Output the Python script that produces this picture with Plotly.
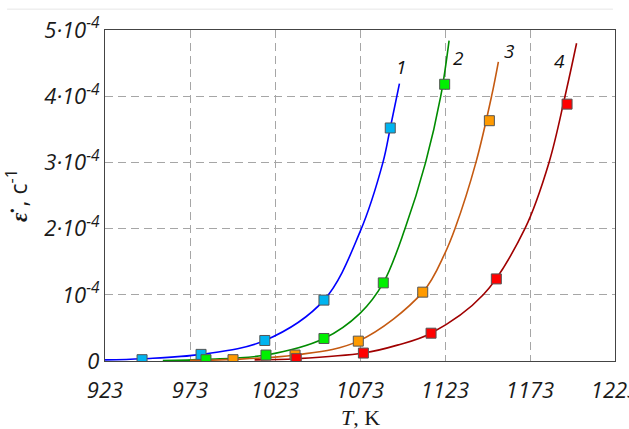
import plotly.graph_objects as go

# ---------------- data ----------------
x_ticks = [923, 973, 1023, 1073, 1123, 1173, 1223]
y_ticks = [0, 1e-4, 2e-4, 3e-4, 4e-4, 5e-4]
y_tick_labels = ["0", "10<sup>-4</sup>", "2·10<sup>-4</sup>", "3·10<sup>-4</sup>",
                 "4·10<sup>-4</sup>", "5·10<sup>-4</sup>"]

series_names = ["1", "2", "3", "4"]

# measured points (markers), strain rate in units of 1e-4 s^-1
pts1_T = [944.8, 979.5, 1017.0, 1051.8, 1090.8]
pts1_e = [0.02, 0.10, 0.31, 0.92, 3.52]
pts2_T = [982.4, 1017.7, 1051.8, 1086.7, 1122.8]
pts2_e = [0.02, 0.09, 0.34, 1.18, 4.18]
pts3_T = [998.3, 1034.8, 1072.0, 1109.9, 1149.1]
pts3_e = [0.02, 0.09, 0.30, 1.04, 3.63]
pts4_T = [1035.5, 1075.0, 1114.8, 1153.2, 1194.8]
pts4_e = [0.035, 0.12, 0.42, 1.24, 3.88]

# fitted curves
fit1_T = [923, 945, 979.5, 1017, 1051.8, 1073, 1086.5, 1090.8, 1096.2]
fit1_e = [0.017, 0.035, 0.10, 0.31, 0.92, 1.95, 3.0, 3.52, 4.19]
fit2_T = [957, 982.4, 1017.7, 1051.8, 1073, 1086.7, 1099.5, 1111.6, 1120.5, 1125.4]
fit2_e = [0.006, 0.025, 0.09, 0.34, 0.72, 1.18, 2.0, 3.0, 4.0, 4.84]
fit3_T = [973, 998.3, 1034.8, 1072, 1109.9, 1123, 1128.9, 1141.2, 1150.4, 1154.4]
fit3_e = [0.009, 0.025, 0.09, 0.30, 1.04, 1.63, 2.0, 3.0, 4.0, 4.52]
fit4_T = [1011, 1035.5, 1075, 1095, 1114.8, 1145.5, 1170, 1184.2, 1193.6, 1200.4]
fit4_e = [0.017, 0.035, 0.12, 0.24, 0.42, 1.0, 2.0, 3.0, 4.0, 4.8]

# curve label positions (T, e*1e-4)
label_T = [1097.1, 1130.6, 1160.6, 1190.1]
label_e = [4.44, 4.57, 4.68, 4.53]

x_title = "<i>T</i>, K"
y_title = "<span style='font-family:Liberation Serif'><b><i>ε\u0307</i></b></span> , c<sup>-1</sup>"

line_colors = ["#0000FF", "#008C00", "#C55A11", "#A00000"]
marker_colors = ["#00B4F0", "#00F000", "#FF9A00", "#FF0000"]

SCALE = 1e-4

fig = go.Figure()
fits = [(fit1_T, fit1_e), (fit2_T, fit2_e), (fit3_T, fit3_e), (fit4_T, fit4_e)]
pts = [(pts1_T, pts1_e), (pts2_T, pts2_e), (pts3_T, pts3_e), (pts4_T, pts4_e)]
for i in range(4):
    fx, fy = fits[i]
    fig.add_trace(go.Scatter(x=fx, y=[v * SCALE for v in fy], mode="lines",
                             line=dict(color=line_colors[i], width=1.6, shape="spline",
                                       smoothing=1.0),
                             showlegend=False, hoverinfo="skip"))
for i in range(4):
    px, py = pts[i]
    fig.add_trace(go.Scatter(x=px, y=[v * SCALE for v in py], mode="markers",
                             marker=dict(symbol="square", size=10, color=marker_colors[i],
                                         line=dict(color="#555555", width=1)),
                             showlegend=False))

for i in range(4):
    fig.add_annotation(x=label_T[i], y=label_e[i] * SCALE, text=series_names[i],
                       showarrow=False,
                       font=dict(family="Open Sans", size=19, color="#111111", style="italic"))

# x axis title placed as a paper annotation
fig.add_annotation(xref="paper", yref="paper", x=0.5, y=-0.172, yanchor="middle",
                   text=x_title, showarrow=False,
                   font=dict(family="Liberation Serif", size=22, color="#1a1a1a"))

# faint separator line at the top of the page
fig.add_shape(type="line", xref="paper", yref="paper", x0=-0.192, x1=0.996,
              y0=1.063, y1=1.063, line=dict(color="#E6E6E6", width=1))

fig.update_xaxes(range=[923, 1223], tickvals=x_ticks, ticktext=[str(t) for t in x_ticks],
                 showgrid=True, gridcolor="#A6A6A6", griddash="8px,5px", gridwidth=1.3,
                 showline=True, linecolor="#444444", linewidth=1.3, mirror=True,
                 zeroline=False, ticks="", ticklabeloverflow="allow", ticklabelstandoff=9,
                 automargin=False,
                 tickfont=dict(family="Open Sans", size=22, color="#1a1a1a", style="italic"))
fig.update_yaxes(range=[0, 5e-4], tickvals=y_ticks, ticktext=y_tick_labels,
                 showgrid=True, gridcolor="#A6A6A6", griddash="8px,5px", gridwidth=1.3,
                 showline=True, linecolor="#444444", linewidth=1.3, mirror=True,
                 zeroline=False, ticks="", ticklabeloverflow="allow", automargin=False,
                 tickfont=dict(family="Open Sans", size=22, color="#1a1a1a", style="italic"),
                 title=dict(text=y_title, standoff=10,
                            font=dict(family="Open Sans", size=23, color="#1a1a1a")))

fig.update_layout(width=629, height=429, margin=dict(l=105, r=14, t=30, b=68),
                  plot_bgcolor="white", paper_bgcolor="white")

fig.write_html("out.html")
